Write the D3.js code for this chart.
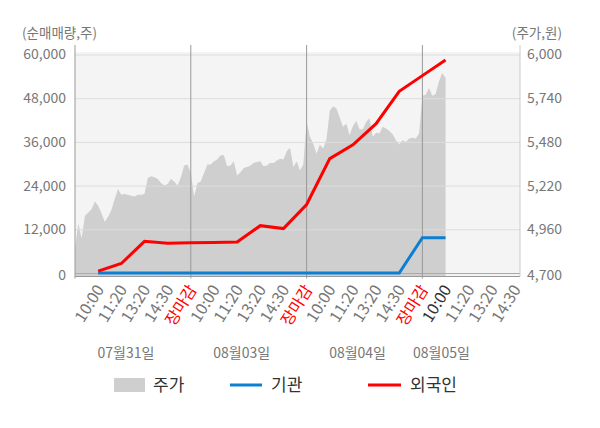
<!DOCTYPE html>
<html>
<head>
<meta charset="utf-8">
<script src="https://d3js.org/d3.v7.min.js"></script>
<style>
body { margin: 0; background: #fff; }
text { font-family: "Noto Sans CJK KR", "Noto Sans", sans-serif; }
</style>
</head>
<body>
<script>

// dates and tick labels
var days = ["07월31일", "08월03일", "08월04일", "08월05일"];
var tickLabels = ["10:00", "11:20", "13:20", "14:30", "장마감"];
var leftTicks = [0, 12000, 24000, 36000, 48000, 60000];
var rightTicks = [4700, 4960, 5220, 5480, 5740, 6000];

// price (원), 35 samples per session, last day partial
var price0 = [4850,4995,4905,5040,5060,5080,5125,5100,5055,5005,5035,5075,5140,5200,5165,5170,5165,5160,5155,5165,
              5165,5170,5265,5275,5270,5260,5235,5220,5230,5260,5245,5220,5270,5340,5345];
var price1 = [5295,5155,5235,5245,5295,5345,5345,5365,5375,5400,5400,5335,5340,5365,5280,5300,5325,5330,5340,5355,
              5360,5365,5335,5340,5355,5355,5370,5380,5375,5425,5445,5330,5365,5310,5345];
var price2 = [5600,5510,5470,5410,5465,5440,5495,5665,5690,5680,5625,5570,5590,5520,5575,5605,5555,5555,5600,5620,
              5510,5535,5530,5570,5560,5545,5525,5490,5465,5490,5480,5500,5505,5500,5530];
var price3 = [5755,5760,5800,5755,5765,5840,5890,5860];

// cumulative net buying (주), one value per tick from the first 10:00
var foreign = [500,2600,8700,8200,8300,8350,8500,13000,12200,18800,31400,35200,41000,49900,54200,58500];
var inst    = [0,0,0,0,0,0,0,0,0,0,0,0,0,0,9700,9700];

var perDay = 35, perTick = 7;
var prices = [price0, price1, price2, price3];
var priceAll = [].concat(price0, price1, price2, price3);

var svg = d3.select("body").append("svg")
            .attr("width", 600)
            .attr("height", 428);

var x = d3.scaleLinear().domain([0, 134.5]).range([75, 520]);
var yL = d3.scaleLinear().domain([0, 60000]).range([273, 54.5]);
var yR = d3.scaleLinear().domain([4700, 6000]).range([273, 54.5]);
var axisY = 276.5;
var x0 = x.range()[0], x1 = x.range()[1];

// plot background
svg.append("rect")
   .attr("x", x0).attr("y", 52)
   .attr("width", x1 - x0).attr("height", axisY - 52)
   .attr("fill", "#f4f4f4");

// price area
var area = d3.area()
             .x(function(d, i) { return x(i); })
             .y0(axisY)
             .y1(function(d) { return yR(d); });
svg.append("path")
   .datum(priceAll)
   .attr("d", area)
   .attr("fill", "#cfcfcf");

// grid lines
var grid = svg.append("g")
              .attr("transform", "translate(" + x0 + ",0)")
              .call(d3.axisLeft(yL).tickValues(leftTicks).tickSize(-(x1 - x0)).tickFormat(""));
grid.select(".domain").remove();
grid.selectAll("line").attr("stroke", function(d) { return d === 0 ? "#aaa" : "#dcdcdc"; });

// left axis labels
var gl = svg.append("g")
            .attr("transform", "translate(66,0)")
            .call(d3.axisLeft(yL).tickValues(leftTicks).tickSize(0).tickPadding(0).tickFormat(d3.format(",")));
gl.select(".domain").remove();
gl.selectAll("text").attr("fill", "#777").style("font-size", "14px")
  .attr("dy", function(d) { return d === 0 ? "0.45em" : "0.32em"; });

// right axis labels
var gr = svg.append("g")
            .attr("transform", "translate(527,0)")
            .call(d3.axisRight(yR).tickValues(rightTicks).tickSize(0).tickPadding(0).tickFormat(d3.format(",")));
gr.select(".domain").remove();
gr.selectAll("text").attr("fill", "#777").style("font-size", "14px")
  .attr("dy", function(d) { return d === 4700 ? "0.45em" : "0.32em"; });

// axis titles
svg.append("text").attr("x", 22).attr("y", 38).text("(순매매량,주)")
   .attr("fill", "#777").style("font-size", "13.5px");
svg.append("text").attr("x", 562).attr("y", 38).attr("text-anchor", "end").text("(주가,원)")
   .attr("fill", "#777").style("font-size", "13.5px");

// x axis line, right border, day separators
svg.append("line").attr("x1", x0).attr("x2", x1).attr("y1", axisY).attr("y2", axisY).attr("stroke", "#999");
svg.append("line").attr("x1", x1).attr("x2", x1).attr("y1", 45).attr("y2", axisY).attr("stroke", "#ccc");
svg.selectAll(".dayline")
   .data(d3.range(days.length))
   .enter()
   .append("line")
   .attr("x1", function(d) { return x(d * perDay); })
   .attr("x2", function(d) { return x(d * perDay); })
   .attr("y1", 45)
   .attr("y2", axisY + 2)
   .attr("stroke", "#999");

// x tick labels
var tickPos = d3.range(1, 20).map(function(k) { return k * perTick; });
var gx = svg.append("g")
            .attr("transform", "translate(0," + axisY + ")")
            .call(d3.axisBottom(x).tickValues(tickPos).tickSize(0).tickPadding(0)
                    .tickFormat(function(d) { return tickLabels[(d / perTick - 1) % 5]; }));
gx.select(".domain").remove();
gx.selectAll("text")
  .style("font-size", "16px")
  .attr("text-anchor", "end")
  .attr("dy", 0)
  .attr("transform", "translate(6,13) rotate(-58)")
  .attr("fill", function(d) {
      var k = d / perTick;
      if (k % 5 === 0) return "#ff0000";
      if (k === 16) return "#333";
      return "#777";
  });

// date labels
svg.selectAll(".date")
   .data(days)
   .enter()
   .append("text")
   .attr("x", function(d, i) {
       var start = i * perDay, n = prices[i].length;
       return x(start + (n < perDay ? n * 0.72 : n * 0.44));
   })
   .attr("y", 358)
   .attr("text-anchor", "middle")
   .attr("fill", "#777")
   .style("font-size", "14px")
   .text(function(d) { return d; });

// net buying lines
var line = d3.line()
             .x(function(d, i) { return x((i + 1) * perTick); })
             .y(function(d) { return yL(d); });
svg.append("path").datum(inst).attr("d", line)
   .attr("fill", "none").attr("stroke", "#0c7fd1").attr("stroke-width", 3);
svg.append("path").datum(foreign).attr("d", line)
   .attr("fill", "none").attr("stroke", "#ff0000").attr("stroke-width", 3);

// legend
var legend = svg.append("g");
legend.append("rect").attr("x", 114).attr("y", 378).attr("width", 31).attr("height", 14).attr("fill", "#cfcfcf");
legend.append("text").attr("x", 153).attr("y", 391).text("주가");
legend.append("line").attr("x1", 230).attr("x2", 262).attr("y1", 385).attr("y2", 385)
      .attr("stroke", "#0c7fd1").attr("stroke-width", 3);
legend.append("text").attr("x", 271).attr("y", 391).text("기관");
legend.append("line").attr("x1", 368).attr("x2", 401).attr("y1", 385).attr("y2", 385)
      .attr("stroke", "#ff0000").attr("stroke-width", 3);
legend.append("text").attr("x", 410).attr("y", 391).text("외국인");
legend.selectAll("text").attr("fill", "#333").style("font-size", "17px");

</script>
</body>
</html>
